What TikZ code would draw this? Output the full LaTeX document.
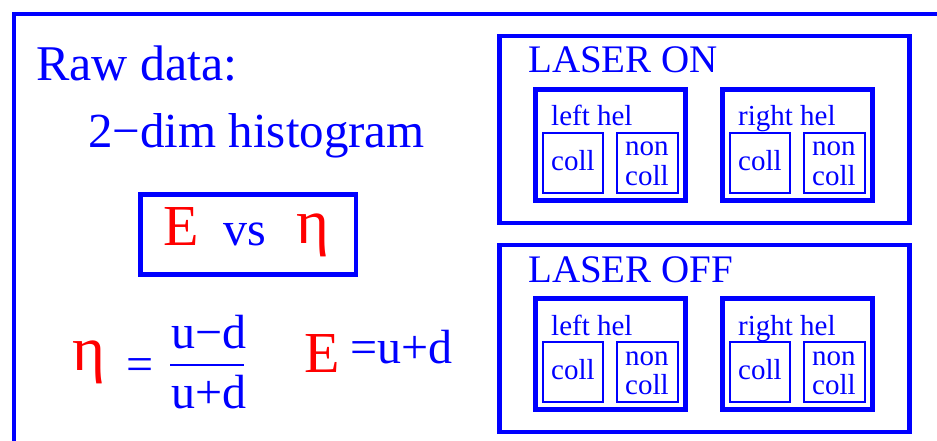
\documentclass[tikz,border=0pt]{standalone}
\usepackage{fontspec}
\setmainfont{Liberation Serif}

\begin{document}
\begin{tikzpicture}[x=1pt, y=-1pt,
    every node/.style={inner sep=0pt, anchor=base west, blue},
    frame/.style={draw=blue, line width=4.5pt},
    cell/.style={draw=blue, line width=1.2pt},
    huge/.style={font=\fontsize{58}{68}\selectfont},
    grk/.style={font=\fontsize{63}{72}\selectfont},
    large/.style={font=\fontsize{48}{58}\selectfont},
    mid/.style={font=\fontsize{39}{46}\selectfont},
    small/.style={font=\fontsize{29}{34}\selectfont}]
    \useasboundingbox (0,0) rectangle (937,441);
    \clip (0,0) rectangle (937,441);

    % Outer frame
    \draw[blue, line width=4pt] (13.5,470) -- (13.5,14) -- (970,14);

    % Raw data side
    \node[font=\fontsize{50}{60}\selectfont] (raw) at (36,81) {Raw data:};
    \node[font=\fontsize{49}{58}\selectfont] (hist) at (88,148) {2−dim histogram};

    % E vs eta
    \draw[frame] (140.5,194.5) rectangle (356,274.5);
    \node[huge, red] (Ebox) at (163,245) {E};
    \node[large] (vs) at (223,245) {vs};
    \node[grk, red] (etabox) at (296,243) {η};

    % eta = (u-d)/(u+d)
    \node[grk, red] (eta) at (72,370) {η};
    \node[large] (eq) at (126,380) {=};
    \node[large] (num) at (171,348) {u−d};
    \draw[blue, line width=2.5pt] (170,365) -- (244,365);
    \node[large] (den) at (171,408) {u+d};

    % E = u+d
    \node[huge, red] (E) at (304,372) {E};
    \node[large] (sum) at (350,363) {=u+d};

    % Laser on / off
    \foreach \dy/\state in {0/ON, 209/OFF} {
        \begin{scope}[yshift=-\dy pt]
            \draw[frame] (499.5,36) rectangle (909.5,223);
            \node[mid] (laser\state) at (528,73) {LASER \state};
            % helicity boxes
            \foreach \dx/\hel in {0/left, 187/right} {
                \begin{scope}[xshift=\dx pt]
                    \draw[frame, line width=5pt] (535.5,89.5) rectangle (685,200);
                    \node[small] (\hel\state) at (551,126) {\hel\ hel};
                    \draw[cell] (543,133) rectangle (603,193);
                    \draw[cell] (617,133) rectangle (678,193);
                    \node[small] (coll\hel\state) at (551,170) {coll};
                    \node[small] (non\hel\state) at (625,156) {non};
                    \node[small] (noncoll\hel\state) at (625,185) {coll};
                \end{scope}
            }
        \end{scope}
    }
\end{tikzpicture}
\end{document}
